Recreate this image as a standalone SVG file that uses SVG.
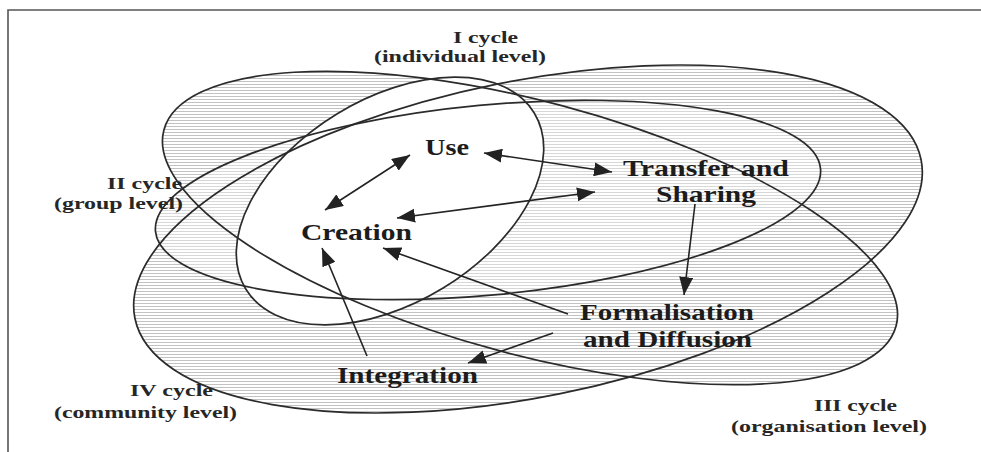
<svg xmlns="http://www.w3.org/2000/svg" width="981" height="452" viewBox="0 0 981 452">
<style>
.bg{fill:#ffffff}
.frame{stroke:#555;stroke-width:1.6;fill:none}
.white{fill:#ffffff;stroke:none}
.lighten{fill:#ffffff;fill-opacity:0.35;stroke:none}
.cyc{fill:none;stroke:#2b2b2b;stroke-width:1.7}
.con{stroke:#232323;stroke-width:1.6;fill:none}
.big{font-family:"Liberation Serif","Times New Roman",serif;font-weight:bold;font-size:23px;fill:#1c1c1c}
.small{font-family:"Liberation Serif","Times New Roman",serif;font-weight:bold;font-size:17px;fill:#262626}
</style>
<defs>
<pattern id="hatch" x="0" y="0" width="4" height="3" patternUnits="userSpaceOnUse">
<rect x="0" y="0" width="4" height="1" fill="#c2c2c2"/>
</pattern>
<clipPath id="cycles">
<ellipse cx="488" cy="200" rx="334" ry="95" transform="rotate(-5.4 488 200)"/>
<ellipse cx="530" cy="228" rx="379" ry="126.5" transform="rotate(15 530 228)"/>
<ellipse cx="528" cy="239" rx="401" ry="158" transform="rotate(-11.4 528 239)"/>
</clipPath>
<marker id="ah" viewBox="0 0 18 14" refX="18" refY="7" markerWidth="18" markerHeight="14" markerUnits="userSpaceOnUse" orient="auto-start-reverse">
<path d="M0,0 L18,7 L0,14 z" fill="#222"/>
</marker>
</defs>
<rect class="bg" x="0" y="0" width="981" height="452"/>
<path class="frame" d="M8,452 L8,10 L981,10"/>

<g id="fills">
<rect x="100" y="40" width="850" height="400" fill="url(#hatch)" clip-path="url(#cycles)"/>
<ellipse class="lighten" cx="488" cy="200" rx="334" ry="95" transform="rotate(-5.4 488 200)"/>
<ellipse class="white" cx="390" cy="201" rx="169" ry="102" transform="rotate(-31.4 390 201)"/>
</g>

<g id="cycle-individual">
<ellipse class="cyc" cx="390" cy="201" rx="169" ry="102" transform="rotate(-31.4 390 201)"/>
<text class="small" x="453" y="43" textLength="65" lengthAdjust="spacingAndGlyphs">I cycle</text>
<text class="small" x="374" y="62" textLength="172" lengthAdjust="spacingAndGlyphs">(individual level)</text>
</g>
<g id="cycle-group">
<ellipse class="cyc" cx="488" cy="200" rx="334" ry="95" transform="rotate(-5.4 488 200)"/>
<text class="small" x="107" y="189" textLength="75" lengthAdjust="spacingAndGlyphs">II cycle</text>
<text class="small" x="54" y="209" textLength="129" lengthAdjust="spacingAndGlyphs">(group level)</text>
</g>
<g id="cycle-organisation">
<ellipse class="cyc" cx="530" cy="228" rx="379" ry="126.5" transform="rotate(15 530 228)"/>
<text class="small" x="814" y="411" textLength="83" lengthAdjust="spacingAndGlyphs">III cycle</text>
<text class="small" x="731" y="432" textLength="196" lengthAdjust="spacingAndGlyphs">(organisation level)</text>
</g>
<g id="cycle-community">
<ellipse class="cyc" cx="528" cy="239" rx="401" ry="158" transform="rotate(-11.4 528 239)"/>
<text class="small" x="130" y="396" textLength="83" lengthAdjust="spacingAndGlyphs">IV cycle</text>
<text class="small" x="54" y="418" textLength="183" lengthAdjust="spacingAndGlyphs">(community level)</text>
</g>

<g id="connectors">
<line class="con" x1="325" y1="210" x2="410" y2="155" marker-start="url(#ah)" marker-end="url(#ah)"/>
<line class="con" x1="484" y1="153" x2="612" y2="172" marker-start="url(#ah)" marker-end="url(#ah)"/>
<line class="con" x1="397" y1="218" x2="595" y2="192" marker-start="url(#ah)" marker-end="url(#ah)"/>
<line class="con" x1="695" y1="204" x2="684" y2="295" marker-end="url(#ah)"/>
<line class="con" x1="568" y1="314" x2="383" y2="248" marker-end="url(#ah)"/>
<line class="con" x1="553" y1="333" x2="468" y2="363" marker-end="url(#ah)"/>
<line class="con" x1="367" y1="356" x2="322" y2="248" marker-end="url(#ah)"/>
</g>

<g id="node-use">
<text class="big" x="425" y="155" textLength="44" lengthAdjust="spacingAndGlyphs">Use</text>
</g>
<g id="node-transfer">
<text class="big" x="623" y="176" textLength="166" lengthAdjust="spacingAndGlyphs">Transfer and</text>
<text class="big" x="656" y="202" textLength="100" lengthAdjust="spacingAndGlyphs">Sharing</text>
</g>
<g id="node-creation">
<text class="big" x="301" y="240" textLength="111" lengthAdjust="spacingAndGlyphs">Creation</text>
</g>
<g id="node-formalisation">
<text class="big" x="580" y="320" textLength="174" lengthAdjust="spacingAndGlyphs">Formalisation</text>
<text class="big" x="583" y="347" textLength="169" lengthAdjust="spacingAndGlyphs">and Diffusion</text>
</g>
<g id="node-integration">
<text class="big" x="337" y="383" textLength="141" lengthAdjust="spacingAndGlyphs">Integration</text>
</g>
</svg>
